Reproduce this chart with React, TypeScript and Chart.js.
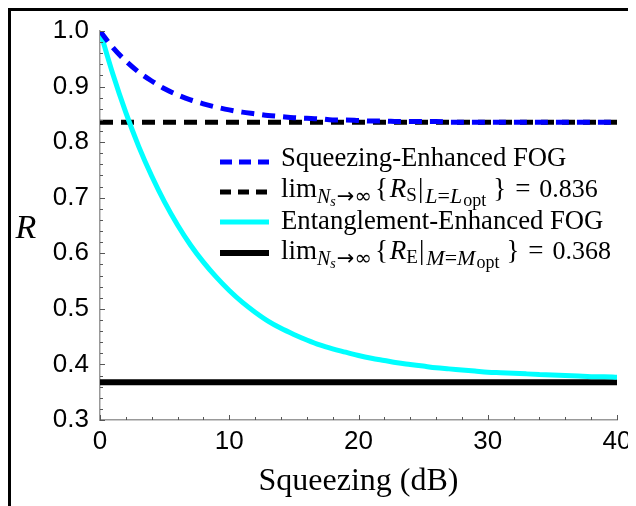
import React, { useEffect, useRef } from "react";
import { Chart, registerables } from "chart.js";

Chart.register(...registerables);

// ---- data ----
const X_VALUES = [
  0, 1, 2, 3, 4, 5, 6, 7, 8, 9, 10, 11, 12, 13, 14, 15, 16, 17, 18, 19, 20,
  21, 22, 23, 24, 25, 26, 27, 28, 29, 30, 31, 32, 33, 34, 35, 36, 37, 38, 39, 40,
];
const SQUEEZING_R = [
  1.0, 0.97, 0.946, 0.926, 0.91, 0.896, 0.885, 0.876, 0.869, 0.863, 0.858,
  0.854, 0.851, 0.848, 0.846, 0.844, 0.843, 0.842, 0.84, 0.84, 0.839,
  0.838, 0.838, 0.837, 0.837, 0.837, 0.837, 0.836, 0.836, 0.836, 0.836,
  0.836, 0.836, 0.836, 0.836, 0.836, 0.836, 0.836, 0.836, 0.836, 0.836,
];
const ENTANGLEMENT_R = [
  1.0, 0.922, 0.853, 0.792, 0.739, 0.692, 0.651, 0.615, 0.584, 0.557, 0.533,
  0.512, 0.494, 0.478, 0.465, 0.454, 0.444, 0.435, 0.428, 0.422, 0.416,
  0.411, 0.407, 0.403, 0.4, 0.397, 0.394, 0.392, 0.39, 0.388, 0.386,
  0.385, 0.384, 0.383, 0.382, 0.381, 0.38, 0.379, 0.378, 0.378, 0.377,
];
const LIMIT_S = 0.836;
const LIMIT_E = 0.368;
const X_RANGE = [0, 40];
const Y_RANGE = [0.3, 1.0];
const X_TICKS = [0, 10, 20, 30, 40];
const Y_TICKS = [0.3, 0.4, 0.5, 0.6, 0.7, 0.8, 0.9, 1.0];
const X_MINOR_STEP = 2;
const Y_MINOR_STEP = 0.02;
const X_TITLE = "Squeezing (dB)";
const Y_TITLE = "R";
const NAME_S = "Squeezing-Enhanced FOG";
const NAME_E = "Entanglement-Enhanced FOG";

// ---- styles ----
const BLUE = "#0000ff";
const CYAN = "#00ffff";
const BLACK = "#000000";
const SERIF = '"Liberation Serif", serif';
const SYMF = '"DejaVu Sans", sans-serif';
const SANS = '"Liberation Sans", Arial, sans-serif';
const BASE = 27;

type Seg = { t: string; s: number; i?: boolean; dy?: number; gap?: number; f?: string };

function limSegs(sym: string, idx: string, value: number): Seg[] {
  return [
    { t: "lim", s: BASE },
    { t: "N", s: 20, i: true, dy: 6 },
    { t: "s", s: 14, i: true, dy: 9 },
    { t: "\u2192\u221E", s: 21, dy: 6, gap: 1, f: SYMF },
    { t: "{", s: BASE, gap: 3 },
    { t: "R", s: BASE, i: true, gap: 2 },
    { t: sym, s: 19, dy: 4 },
    { t: "|", s: BASE, gap: 1 },
    { t: idx, s: 22, i: true, dy: 6, gap: 2 },
    { t: "=", s: 22, dy: 6 },
    { t: idx, s: 22, i: true, dy: 6 },
    { t: "opt", s: 18, dy: 9, gap: 1 },
    { t: "}", s: BASE, gap: 7 },
    { t: "=", s: BASE, gap: 9 },
    { t: value.toFixed(3), s: 26, gap: 9 },
  ];
}

function drawRich(ctx: CanvasRenderingContext2D, x: number, y: number, segs: Seg[]) {
  let cx = x;
  ctx.textAlign = "left";
  ctx.textBaseline = "alphabetic";
  ctx.fillStyle = BLACK;
  for (const g of segs) {
    cx += g.gap || 0;
    ctx.font = `${g.i ? "italic " : ""}${g.s}px ${g.f || SERIF}`;
    ctx.fillText(g.t, cx, y + (g.dy || 0));
    cx += ctx.measureText(g.t).width;
  }
}

const LEGEND_ROWS = [
  { color: BLUE, dash: [12, 7], width: 5, segs: [{ t: NAME_S, s: 26.7 }] as Seg[], lineY: 151, textY: 155 },
  { color: BLACK, dash: [11, 7], width: 5, segs: limSegs("S", "L", LIMIT_S), lineY: 181, textY: 186 },
  { color: CYAN, dash: [] as number[], width: 5, segs: [{ t: NAME_E, s: 26.7 }] as Seg[], lineY: 211, textY: 218 },
  { color: BLACK, dash: [] as number[], width: 6, segs: limSegs("E", "M", LIMIT_E), lineY: 242, textY: 248 },
];

const extrasPlugin = {
  id: "extras",
  afterDraw(chart: any) {
    const { ctx, chartArea, scales } = chart;
    const xs = scales.x;
    const ys = scales.y;
    ctx.save();
    // inward ticks
    ctx.strokeStyle = "#555";
    ctx.lineWidth = 1;
    const y0 = ys.getPixelForValue(Y_RANGE[0]);
    const x0 = xs.getPixelForValue(X_RANGE[0]);
    const nx = Math.round((X_RANGE[1] - X_RANGE[0]) / X_MINOR_STEP);
    for (let k = 0; k <= nx; k++) {
      const v = X_RANGE[0] + k * X_MINOR_STEP;
      const px = Math.round(xs.getPixelForValue(v)) + 0.5;
      const major = X_TICKS.includes(v);
      ctx.beginPath();
      ctx.moveTo(px, y0);
      ctx.lineTo(px, y0 - (major ? 5 : 3));
      ctx.stroke();
    }
    const ny = Math.round((Y_RANGE[1] - Y_RANGE[0]) / Y_MINOR_STEP);
    for (let k = 0; k <= ny; k++) {
      const v = Y_RANGE[0] + k * Y_MINOR_STEP;
      const py = Math.round(ys.getPixelForValue(v)) + 0.5;
      const major = k % 5 === 0;
      ctx.beginPath();
      ctx.moveTo(x0, py);
      ctx.lineTo(x0 + (major ? 5 : 3), py);
      ctx.stroke();
    }
    // y title
    ctx.fillStyle = BLACK;
    ctx.font = `italic 34px ${SERIF}`;
    ctx.textAlign = "center";
    ctx.textBaseline = "alphabetic";
    ctx.fillText(Y_TITLE, 15, 227);
    // legend
    const lx0 = chartArea.left + 120;
    const lx1 = chartArea.left + 169;
    const tx = chartArea.left + 181;
    for (const row of LEGEND_ROWS) {
      ctx.strokeStyle = row.color;
      ctx.lineWidth = row.width;
      ctx.lineCap = "butt";
      ctx.setLineDash(row.dash);
      ctx.beginPath();
      ctx.moveTo(lx0, row.lineY);
      ctx.lineTo(lx1, row.lineY);
      ctx.stroke();
      ctx.setLineDash([]);
      drawRich(ctx, tx, row.textY, row.segs);
    }
    ctx.restore();
  },
};

export default function App() {
  const ref = useRef<HTMLCanvasElement | null>(null);
  useEffect(() => {
    document.documentElement.style.overflow = "hidden";
    document.body.style.overflow = "hidden";
    const canvas = ref.current;
    if (!canvas) return;
    const pts = (ys: number[]) => X_VALUES.map((x, i) => ({ x, y: ys[i] }));
    const flat = (v: number) => [
      { x: X_RANGE[0], y: v },
      { x: X_RANGE[1], y: v },
    ];
    const chart = new Chart(canvas, {
      type: "line",
      data: {
        datasets: [
          {
            label: NAME_S,
            data: pts(SQUEEZING_R),
            borderColor: BLUE,
            borderWidth: 5,
            borderDash: [13, 8],
            pointRadius: 0,
            cubicInterpolationMode: "monotone",
            fill: false,
            order: 0,
          },
          {
            label: NAME_E,
            data: pts(ENTANGLEMENT_R),
            borderColor: CYAN,
            borderWidth: 5,
            pointRadius: 0,
            cubicInterpolationMode: "monotone",
            fill: false,
            order: 1,
          },
          {
            label: "limE",
            data: flat(LIMIT_E),
            borderColor: BLACK,
            borderWidth: 6,
            pointRadius: 0,
            fill: false,
            order: 2,
          },
          {
            label: "limS",
            data: flat(LIMIT_S),
            borderColor: BLACK,
            borderWidth: 5,
            borderDash: [13, 8],
            pointRadius: 0,
            fill: false,
            order: 3,
          },
        ],
      },
      options: {
        responsive: false,
        animation: false,
        devicePixelRatio: 1,
        layout: { padding: { left: 0, right: 19, top: 20, bottom: 0 } },
        plugins: { legend: { display: false }, tooltip: { enabled: false } },
        scales: {
          x: {
            type: "linear",
            min: X_RANGE[0],
            max: X_RANGE[1],
            grid: { display: false },
            border: { display: true, color: "#999", width: 1.5 },
            afterBuildTicks: (s: any) => {
              s.ticks = X_TICKS.map((v) => ({ value: v }));
            },
            afterFit: (s: any) => {
              s.height = 86;
            },
            ticks: {
              color: BLACK,
              font: { family: SANS, size: 26 },
              padding: -2,
              maxRotation: 0,
              autoSkip: false,
              callback: (v: any) => String(v),
            },
            title: {
              display: true,
              text: X_TITLE,
              color: BLACK,
              font: { family: SERIF, size: 32 },
              padding: { top: 0, bottom: 5 },
            },
          },
          y: {
            type: "linear",
            min: Y_RANGE[0],
            max: Y_RANGE[1],
            grid: { display: false },
            border: { display: true, color: "#999", width: 1.5 },
            afterBuildTicks: (s: any) => {
              s.ticks = Y_TICKS.map((v) => ({ value: v }));
            },
            afterFit: (s: any) => {
              s.width = 89;
            },
            ticks: {
              color: BLACK,
              font: { family: SANS, size: 26 },
              padding: 3,
              autoSkip: false,
              callback: (v: any) => Number(v).toFixed(1),
            },
          },
        },
      },
      plugins: [extrasPlugin],
    });
    return () => chart.destroy();
  }, []);
  return (
    <div
      style={{
        position: "relative",
        width: 625,
        height: 495,
        borderTop: "3px solid black",
        borderLeft: "3px solid black",
      }}
    >
      <canvas ref={ref} width={625} height={495} style={{ display: "block" }} />
    </div>
  );
}
